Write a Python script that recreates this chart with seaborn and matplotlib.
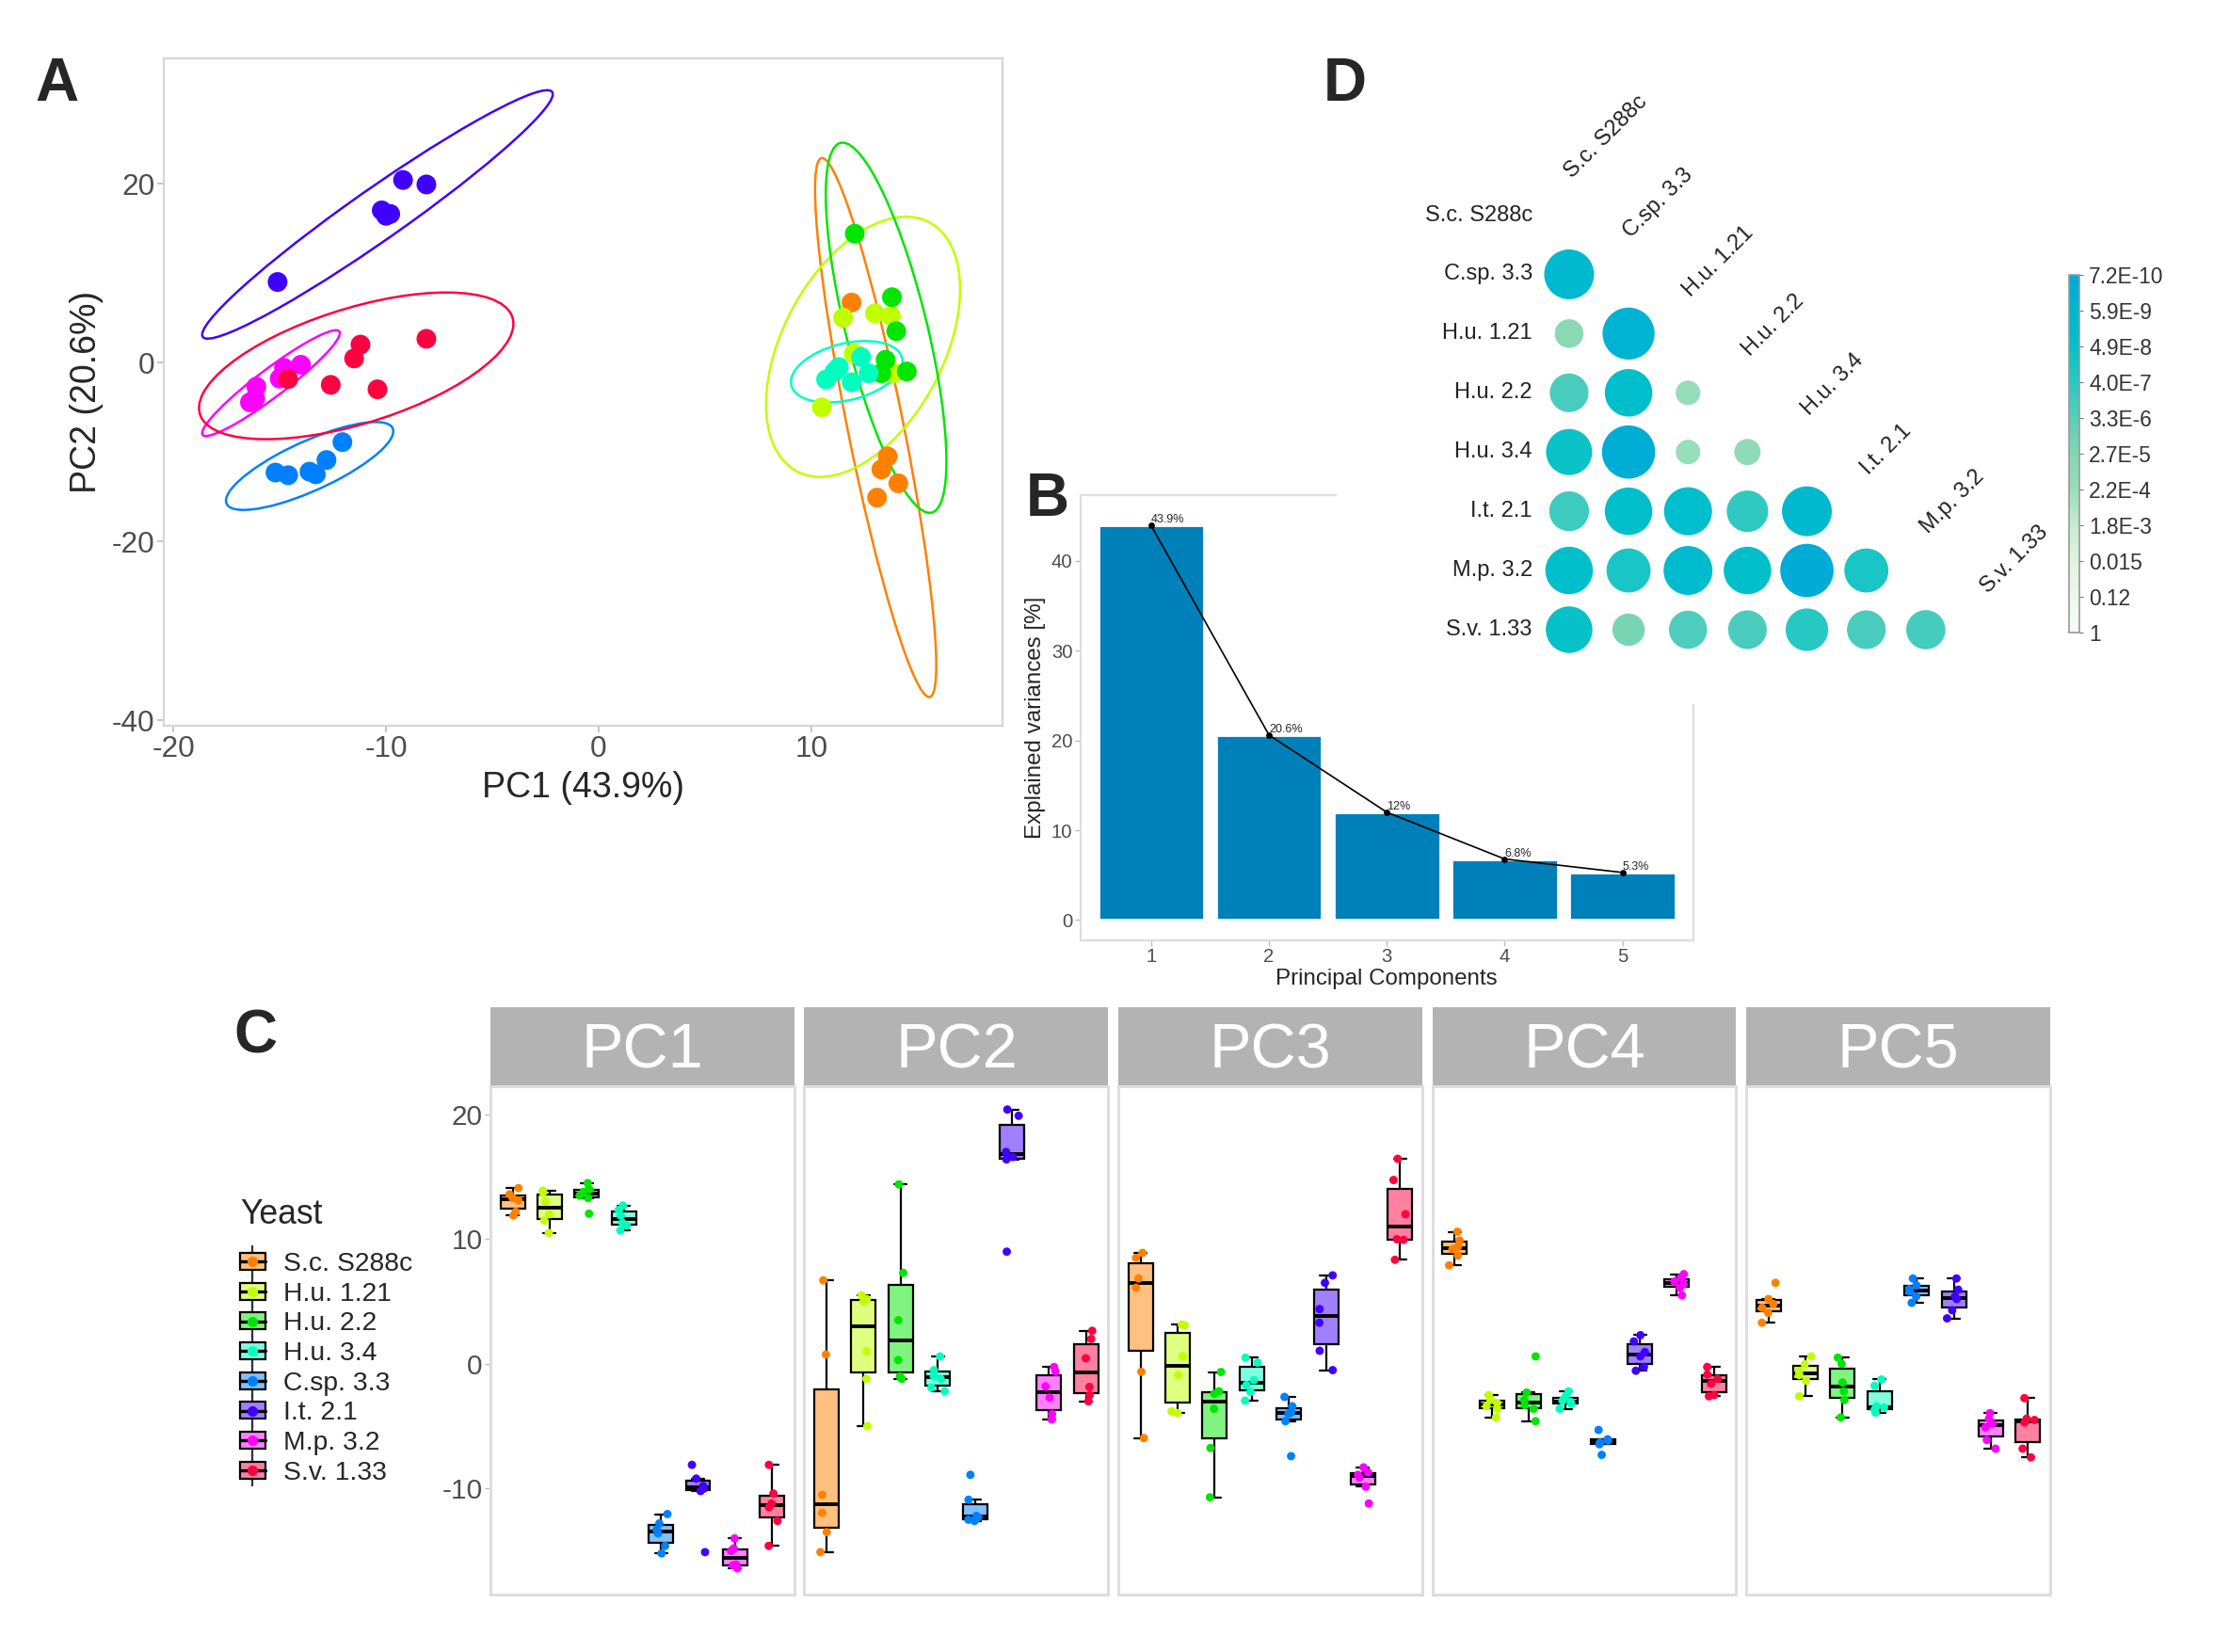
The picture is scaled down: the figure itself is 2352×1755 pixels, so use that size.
import numpy as np
import pandas as pd
import matplotlib
matplotlib.use('Agg')
import matplotlib.pyplot as plt
import seaborn as sns
from matplotlib.patches import Ellipse, Rectangle, Patch
from matplotlib.lines import Line2D
from matplotlib.legend_handler import HandlerTuple
from matplotlib.colors import LinearSegmentedColormap, Normalize, to_rgb
from matplotlib.cm import ScalarMappable

sns.set_theme(style='white')
plt.rcParams['font.family'] = ['Liberation Sans', 'DejaVu Sans']
plt.rcParams['axes.unicode_minus'] = False

# --- данные ---
yeast = ['S.c. S288c', 'H.u. 1.21', 'H.u. 2.2', 'H.u. 3.4',
         'C.sp. 3.3', 'I.t. 2.1', 'M.p. 3.2', 'S.v. 1.33']
colors = ['#FF8000', '#BFFF00', '#00E600', '#00FFBF',
          '#0080FF', '#4000FF', '#FF00FF', '#FF0040']

# scores per yeast (6 samples each), same order as yeast
pc1 = [[11.9, 12.2, 13.6, 13.3, 14.1, 13.1],
       [11.5, 13.0, 13.75, 10.5, 13.9, 12.0],
       [12.05, 13.8, 14.0, 13.3, 13.5, 14.5],
       [10.7, 11.3, 11.9, 11.1, 12.7, 12.35],
       [-15.2, -14.6, -13.6, -13.3, -12.8, -12.05],
       [-15.1, -10.2, -10.0, -9.8, -9.2, -8.1],
       [-16.4, -16.1, -16.15, -15.0, -14.8, -14.0],
       [-14.6, -11.5, -11.2, -12.6, -10.4, -8.1]]
pc2 = [[6.7, 0.75, -10.5, -11.95, -13.5, -15.1],
       [5.0, 5.5, 5.2, -5.0, -1.2, 1.0],
       [14.4, 7.3, 3.5, -1.2, 0.3, -1.0],
       [-1.9, -0.5, -2.2, -1.0, -1.2, 0.6],
       [-12.3, -12.6, -12.2, -12.5, -10.9, -8.9],
       [9.0, 17.0, 16.4, 16.6, 20.4, 19.9],
       [-4.45, -2.7, -4.03, -1.8, -0.6, -0.25],
       [-1.85, 0.45, 2.0, -2.5, -3.0, 2.65]]
pc3 = [[8.9, 6.85, -0.63, 8.5, 6.1, -5.95],
       [3.15, 3.1, 0.6, -0.9, -3.8, -3.95],
       [-0.65, -2.2, -2.4, -3.6, -6.75, -10.7],
       [0.5, 0.1, -1.3, -1.7, -2.25, -2.95],
       [-2.65, -3.4, -3.9, -4.0, -4.6, -7.4],
       [7.1, 6.5, 4.4, 3.3, 1.05, -0.5],
       [-8.3, -8.7, -8.9, -9.1, -9.85, -11.2],
       [16.45, 14.75, 12.0, 10.0, 9.95, 8.35]]
pc4 = [[10.6, 9.9, 9.4, 9.2, 8.7, 7.9],
       [-2.5, -2.9, -3.15, -3.4, -3.6, -4.3],
       [0.6, -2.3, -2.9, -3.3, -3.6, -4.6],
       [-2.2, -2.6, -2.95, -3.05, -3.2, -3.6],
       [-5.3, -6.05, -6.15, -6.3, -6.45, -7.3],
       [2.3, 1.8, 0.95, 0.6, -0.25, -0.55],
       [7.2, 6.9, 6.6, 6.4, 6.1, 5.5],
       [-0.25, -0.85, -1.2, -1.6, -2.5, -2.6]]
pc5 = [[6.5, 5.2, 4.8, 4.5, 4.1, 3.3],
       [0.6, -0.03, -0.6, -0.9, -1.35, -2.6],
       [0.5, 0.0, -1.5, -2.2, -2.9, -4.3],
       [-1.25, -1.75, -3.4, -3.5, -3.7, -3.9],
       [6.85, 6.3, 6.0, 5.8, 5.4, 4.9],
       [6.85, 5.95, 5.4, 5.2, 4.3, 3.65],
       [-3.95, -4.4, -4.8, -5.1, -6.1, -6.8],
       [-2.75, -4.4, -4.5, -4.7, -6.8, -7.5]]
pc_names = ['PC1', 'PC2', 'PC3', 'PC4', 'PC5']

# explained variance (%)
var_expl = [43.9, 20.6, 12.0, 6.8, 5.3]

# pairwise p-values (lower triangle), panel D order
d_names = ['S.c. S288c', 'C.sp. 3.3', 'H.u. 1.21', 'H.u. 2.2',
           'H.u. 3.4', 'I.t. 2.1', 'M.p. 3.2', 'S.v. 1.33']
pvals = [[],
         [1.0e-8],
         [5.0e-5, 3.2e-9],
         [1.6e-6, 3.2e-8, 1.6e-4],
         [6.3e-8, 1.6e-9, 2.0e-4, 1.0e-4],
         [1.0e-6, 3.2e-8, 2.5e-8, 5.0e-7, 1.0e-8],
         [3.2e-8, 1.6e-7, 1.6e-8, 3.2e-8, 1.3e-9, 1.6e-7],
         [5.0e-8, 1.6e-5, 2.0e-6, 1.6e-6, 3.2e-7, 1.6e-6, 1.3e-6]]
cbar_labels = ['7.2E-10', '5.9E-9', '4.9E-8', '4.0E-7', '3.3E-6', '2.7E-5',
               '2.2E-4', '1.8E-3', '0.015', '0.12', '1']

# --- таблицы ---
scores = pd.DataFrame({'Yeast': np.repeat(yeast, 6),
                       'PC1': np.concatenate(pc1),
                       'PC2': np.concatenate(pc2)})
rows = []
for name_pc, vals in zip(pc_names, [pc1, pc2, pc3, pc4, pc5]):
    for name, v in zip(yeast, vals):
        for x in v:
            rows.append((name, name_pc, x))
long = pd.DataFrame(rows, columns=['Yeast', 'PC', 'value'])

drows = []
for i, row in enumerate(pvals):
    for j, p in enumerate(row):
        drows.append((j, i, p, -np.log10(p)))
dfD = pd.DataFrame(drows, columns=['col', 'row', 'p', 'nlp'])

pal = dict(zip(yeast, colors))
pastel = [tuple(1 - 0.5 * (1 - np.array(to_rgb(c)))) for c in colors]
pal_box = dict(zip(yeast, pastel))

fig = plt.figure(figsize=(11.76, 8.775), dpi=200)
tick_col = '#4D4D4D'

# ---------------- A ----------------
axA = fig.add_axes([0.074, 0.5607, 0.3788, 0.404])
for name, col in zip(yeast, colors):
    sub = scores[scores.Yeast == name][['PC1', 'PC2']].to_numpy()
    mu = sub.mean(axis=0)
    cov = np.cov(sub.T)
    dfd = len(sub) - 1
    fq = dfd / 2 * (0.05 ** (-2 / dfd) - 1)   # qf(0.95, 2, n-1)
    r = np.sqrt(2 * fq)
    ev, evec = np.linalg.eigh(cov)
    ang = np.degrees(np.arctan2(evec[1, 1], evec[0, 1]))
    axA.add_patch(Ellipse(mu, 2 * r * np.sqrt(ev[1]), 2 * r * np.sqrt(ev[0]),
                          angle=ang, fill=False, ec=col, lw=0.9))
sns.scatterplot(data=scores, x='PC1', y='PC2', hue='Yeast', hue_order=yeast,
                palette=pal, s=57, edgecolor='none', legend=False, ax=axA)
axA.set_xlim(-20.45, 19.0)
axA.set_ylim(-40.6, 34.0)
axA.set_xticks([-20, -10, 0, 10])
axA.set_yticks([-40, -20, 0, 20])
axA.set_xlabel(f'PC1 ({var_expl[0]}%)', fontsize=13.5, labelpad=3)
axA.set_ylabel(f'PC2 ({var_expl[1]}%)', fontsize=13.5, labelpad=3)
axA.tick_params(labelsize=11.4, labelcolor=tick_col, length=2.5, width=0.6,
                color='#BBBBBB', pad=1, left=True, bottom=True)
for s in axA.spines.values():
    s.set_color('#D5D5D5')
    s.set_linewidth(0.8)

# ---------------- B ----------------
axB = fig.add_axes([0.488, 0.4308, 0.2768, 0.2695])
pc_num = [str(i + 1) for i in range(len(var_expl))]
sns.barplot(x=pc_num, y=var_expl, color='#0080B8', saturation=1, width=0.9, ax=axB)
sns.pointplot(x=pc_num, y=var_expl, color='black', markersize=2, linewidth=0.6, ax=axB)
for i, v in enumerate(var_expl):
    axB.text(i, v, f'{v:g}%', fontsize=4.5, ha='left', va='bottom')
axB.set_xlim(-0.6, 4.6)
axB.set_ylim(-2.25, 47.3)
axB.set_yticks([0, 10, 20, 30, 40])
axB.set_xlabel('Principal Components', fontsize=8.7, labelpad=1)
axB.set_ylabel('Explained variances [%]', fontsize=8.7, labelpad=2)
axB.tick_params(labelsize=7.3, labelcolor=tick_col, length=2, width=0.5,
                color='#BBBBBB', pad=1, left=True, bottom=True)
for s in axB.spines.values():
    s.set_color('#DDDDDD')
    s.set_linewidth(0.8)

# белая подложка панели D поверх рамки B
fig.add_artist(Rectangle((942 / 1560, 1 - 496 / 1164), 1 - 942 / 1560, 496 / 1164,
                         transform=fig.transFigure, fc='white', ec='none', zorder=1.5))

# ---------------- D ----------------
nlp_max = -np.log10(float(cbar_labels[0]))
cmap = LinearSegmentedColormap.from_list('pv', [
    (0.0, '#F7FCF7'), (0.2, '#E2F4DE'), (0.3, '#C4EDD0'), (0.4, '#98DEBA'),
    (0.5, '#84D6B2'), (0.62, '#50CDBC'), (0.72, '#22C7C3'), (0.82, '#00BFCB'),
    (0.92, '#00B4D2'), (1.0, '#00A8D6')])
axD = fig.add_axes([0.6953, 0.6009, 0.2148, 0.2868], zorder=2)
sns.scatterplot(data=dfD, x='col', y='row', hue='nlp', size='nlp', palette=cmap,
                hue_norm=(0, nlp_max), sizes=(88, 416), size_norm=(3.8, 8.8),
                edgecolor='none', legend=False, ax=axD)
axD.set_xlim(-0.5, 7.5)
axD.set_ylim(7.5, -0.5)
axD.axis('off')
for i, name in enumerate(d_names):
    axD.text(-0.62, i, name, ha='right', va='center', fontsize=8.5, color='#222222')
    axD.text(i + 0.1, i - 0.55, name, ha='left', va='bottom', rotation=45,
             rotation_mode='anchor', fontsize=8.5, color='#222222')

cax = fig.add_axes([0.9345, 0.6171, 0.0049, 0.2165], zorder=2)
cb = fig.colorbar(ScalarMappable(norm=Normalize(0, nlp_max), cmap=cmap), cax=cax)
cb.set_ticks(-np.log10([float(t) for t in cbar_labels]))
cb.set_ticklabels(cbar_labels)
cb.outline.set_edgecolor('#999999')
cb.outline.set_linewidth(0.6)
cax.tick_params(length=1.5, width=0.4, color='#777777', labelsize=8.2, pad=2,
                labelcolor='#333333')

# ---------------- C ----------------
np.random.seed(3)
gs = fig.add_gridspec(1, 5, left=0.2215, right=0.926, bottom=0.0348, top=0.3427,
                      wspace=0.0328)
strip_h = 83.6 / 540
axes_c = []
for k, name_pc in enumerate(pc_names):
    ax = fig.add_subplot(gs[0, k], sharey=axes_c[0] if axes_c else None)
    axes_c.append(ax)
    sub = long[long.PC == name_pc]
    sns.boxplot(data=sub, x='Yeast', y='value', hue='Yeast', order=yeast,
                hue_order=yeast, palette=pal_box, saturation=1, width=0.66,
                linecolor='black', linewidth=0.8, showfliers=False, legend=False,
                medianprops=dict(linewidth=1.4), ax=ax)
    sns.stripplot(data=sub, x='Yeast', y='value', hue='Yeast', order=yeast,
                  hue_order=yeast, palette=pal, jitter=0.2, size=3.2,
                  legend=False, ax=ax)
    ax.set_xlim(-0.6, 7.6)
    ax.set_ylim(-18.5, 22.3)
    ax.set_xticks([])
    ax.set_xlabel('')
    ax.set_ylabel('')
    ax.set_yticks([-10, 0, 10, 20])
    ax.tick_params(labelsize=10.7, labelcolor=tick_col, length=2, width=0.5,
                   color='#BBBBBB', pad=1, left=True)
    if k > 0:
        ax.tick_params(labelleft=False, left=False)
    for s in ax.spines.values():
        s.set_color('#DDDDDD')
        s.set_linewidth(1.1)
    ax.add_patch(Rectangle((0, 1), 1, strip_h, transform=ax.transAxes,
                           clip_on=False, fc='#B3B3B3', ec='none'))
    ax.text(0.5, 1 + strip_h / 2 - 0.011, name_pc, transform=ax.transAxes,
            ha='center', va='center', fontsize=24, color='white')

# легенда C
handles = []
for col, pcol in zip(colors, pastel):
    whisk = Line2D([], [], marker='|', markersize=12, mew=0.8, color='#333333',
                   linestyle='none')
    box = Patch(facecolor=pcol, edgecolor='black', linewidth=0.8)
    med = Line2D([], [], color='black', lw=1.2)
    dot = Line2D([], [], marker='o', markersize=3, color=col, linestyle='none')
    handles.append((whisk, box, med, dot))
fig.text(255 / 2352, 1 - 1291 / 1755, 'Yeast', fontsize=12.8, ha='left', va='center')
fig.legend(handles, yeast, handler_map={tuple: HandlerTuple(ndivide=1, pad=0)},
           loc='upper left', bbox_to_anchor=(0.1084, 0.2422),
           bbox_transform=fig.transFigure, frameon=False,
           fontsize=10.2, numpoints=1,
           handlelength=0.95, handleheight=0.6, handletextpad=0.69,
           labelspacing=0.2, borderpad=0, borderaxespad=0)

# ---------------- буквы панелей ----------------
for lab, x, y in [('A', 0.0255, 0.9487), ('B', 0.4732, 0.6974),
                  ('C', 0.1152, 0.3721), ('D', 0.6076, 0.9487)]:
    fig.text(x, y, lab, fontsize=23, fontweight='bold', ha='center', va='center')

fig.savefig('out.png', dpi=200)
